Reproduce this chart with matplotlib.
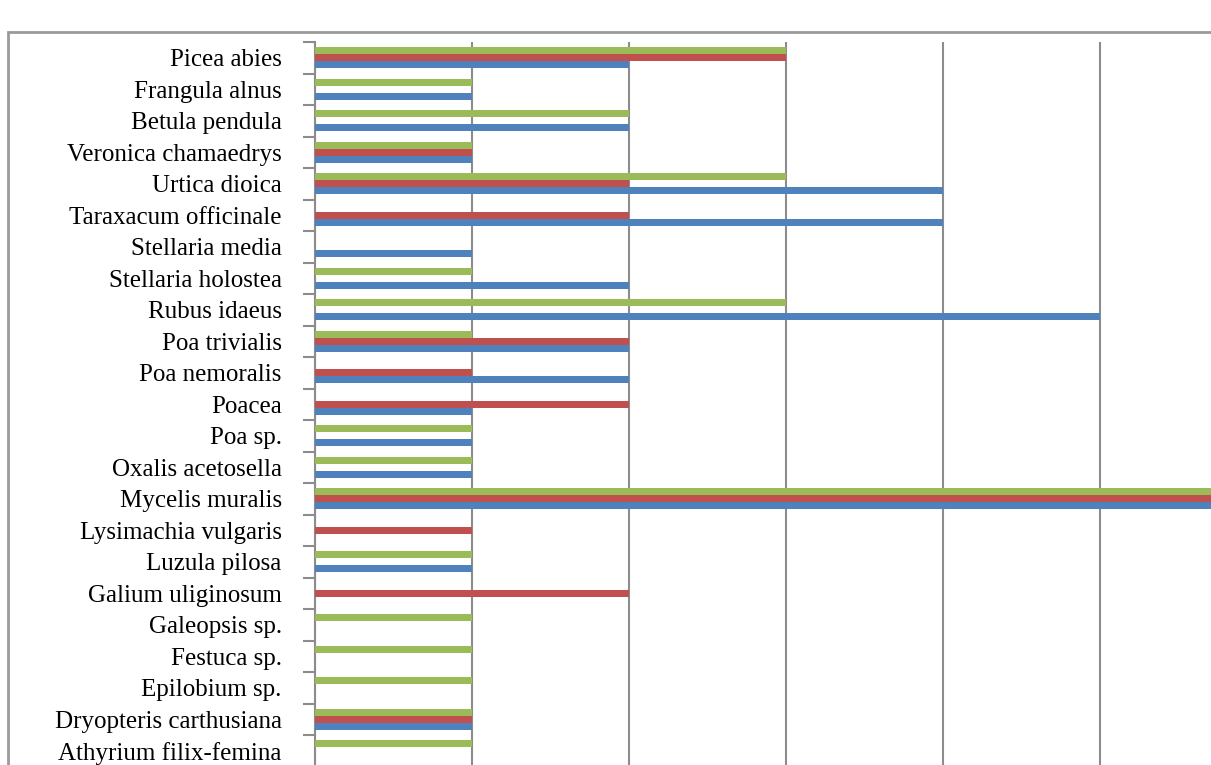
import numpy as np
import matplotlib as mpl
mpl.use('Agg')
import matplotlib.pyplot as plt
from matplotlib.patches import Rectangle
from matplotlib.ticker import FixedLocator

# Categories in Excel order (bottom of the axis first)
species = ['Athyrium filix-femina', 'Dryopteris carthusiana', 'Epilobium sp.',
           'Festuca sp.', 'Galeopsis sp.', 'Galium uliginosum', 'Luzula pilosa',
           'Lysimachia vulgaris', 'Mycelis muralis', 'Oxalis acetosella',
           'Poa sp.', 'Poacea', 'Poa nemoralis', 'Poa trivialis',
           'Rubus idaeus', 'Stellaria holostea', 'Stellaria media',
           'Taraxacum officinale', 'Urtica dioica', 'Veronica chamaedrys',
           'Betula pendula', 'Frangula alnus', 'Picea abies']

# three series (blue, red, green)
series1 = [0, 1, 0, 0, 0, 0, 1, 0, 6, 1, 1, 1, 2, 2, 5, 2, 1, 4, 4, 1, 2, 1, 2]
series2 = [0, 1, 0, 0, 0, 2, 0, 1, 6, 0, 0, 2, 1, 2, 0, 0, 0, 2, 2, 1, 0, 0, 3]
series3 = [1, 1, 1, 1, 1, 0, 1, 0, 6, 1, 1, 0, 0, 1, 3, 1, 0, 0, 3, 1, 2, 1, 3]

colors = ['#4f81bd', '#c0504d', '#9bbb59']

W, H = 1211, 765
fig = plt.figure(figsize=(W / 100, H / 100), dpi=100)

# outer chart border (cropped at right/bottom)
fig.patches.append(Rectangle((8 / W, -0.1), 1.2, 1 - 32 / H + 0.1,
                             transform=fig.transFigure, fill=False,
                             edgecolor='#9a9a9a', linewidth=2))

# plot area: left at x=315px, category band 31.5px, 157px per unit
n = len(species)
band = 31.5
unit = 157.0
xmax = 7
top = 42.0
left = 315.0
ax = fig.add_axes([left / W, 1 - (top + band * n) / H,
                   xmax * unit / W, band * n / H])

y = np.arange(n)
h = 0.225
ax.barh(y - h, series1, height=h, color=colors[0], linewidth=0, zorder=3)
ax.barh(y, series2, height=h, color=colors[1], linewidth=0, zorder=3)
ax.barh(y + h, series3, height=h, color=colors[2], linewidth=0, zorder=3)

ax.set_xlim(0, xmax)
ax.set_ylim(-0.5, n - 0.5)

ax.set_xticks(np.arange(0, xmax + 1))
ax.xaxis.grid(True, color='#8c8c8c', linewidth=1.5, zorder=1)
ax.tick_params(axis='x', length=0, labelbottom=False)

ax.set_yticks(y)
ax.set_yticklabels(species, family='Liberation Serif', fontsize=18)
ax.yaxis.set_minor_locator(FixedLocator(np.arange(-0.5, n, 1.0)))
ax.tick_params(axis='y', which='major', length=0, pad=24)
ax.tick_params(axis='y', which='minor', length=9, width=1.5, color='#8c8c8c')

for s in ['top', 'right', 'bottom']:
    ax.spines[s].set_visible(False)
ax.spines['left'].set_color('#8c8c8c')
ax.spines['left'].set_linewidth(1.5)

plt.savefig('out.png', dpi=100)
